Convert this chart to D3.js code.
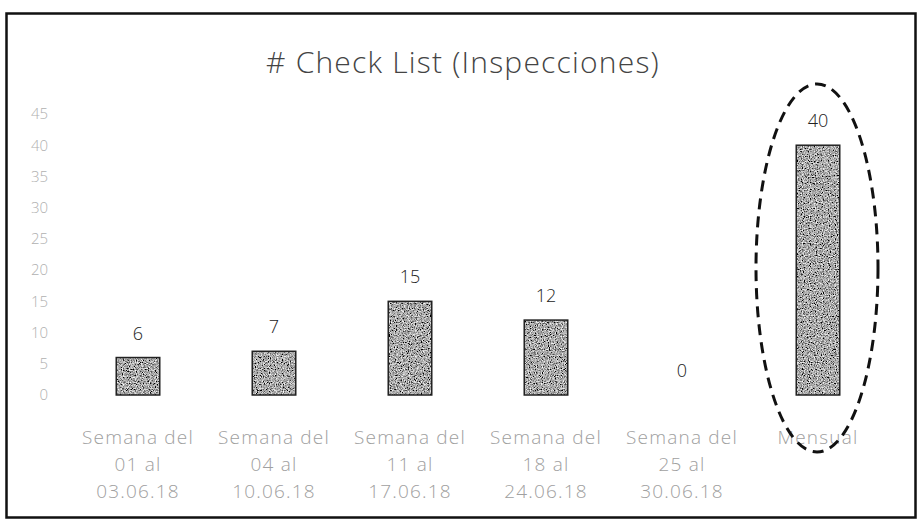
<!DOCTYPE html>
<html>
<head>
<meta charset="utf-8">
<script src="https://cdn.jsdelivr.net/npm/d3@7"></script>
<style>
  html, body { margin: 0; padding: 0; background: #fff; }
  svg { display: block; }
</style>
</head>
<body>
<svg id="chart" width="921" height="528"></svg>
<script>
// Inspections per week plus monthly total
const categories = [
  ["Semana del", "01 al", "03.06.18"],
  ["Semana del", "04 al", "10.06.18"],
  ["Semana del", "11 al", "17.06.18"],
  ["Semana del", "18 al", "24.06.18"],
  ["Semana del", "25 al", "30.06.18"],
  ["Mensual"]
];
const values = [6, 7, 15, 12, 0, 40];
const yTicks = [0, 5, 10, 15, 20, 25, 30, 35, 40, 45];
const title = "# Check List (Inspecciones)";

const svg = d3.select("#chart");
const font = "'Open Sans', Lato, sans-serif";

// speckled grey texture for the bars
const defs = svg.append("defs");
const grain = defs.append("filter").attr("id", "grain")
  .attr("x", 0).attr("y", 0).attr("width", 1).attr("height", 1);
grain.append("feTurbulence")
  .attr("type", "fractalNoise").attr("baseFrequency", 0.85)
  .attr("numOctaves", 2).attr("seed", 3).attr("result", "noise");
grain.append("feColorMatrix")
  .attr("in", "noise").attr("type", "matrix")
  .attr("values", "0 0 0 0 0  0 0 0 0 0  0 0 0 0 0  0 0 0 -1.8 1.5")
  .attr("result", "dots");
grain.append("feComposite")
  .attr("in", "dots").attr("in2", "SourceGraphic").attr("operator", "in")
  .attr("result", "dotsIn");
grain.append("feFlood").attr("flood-color", "#ffffff").attr("result", "white");
grain.append("feComposite")
  .attr("in", "white").attr("in2", "SourceGraphic").attr("operator", "in")
  .attr("result", "base");
grain.append("feMerge").selectAll("feMergeNode")
  .data(["base", "dotsIn"]).join("feMergeNode").attr("in", d => d);

// outer frame
svg.append("rect")
  .attr("x", 6.5).attr("y", 13.5)
  .attr("width", 909).attr("height", 504)
  .attr("fill", "none").attr("stroke", "#111").attr("stroke-width", 2.5);

const x = d3.scaleBand()
  .domain(d3.range(categories.length))
  .range([70, 886])
  .paddingInner(0.68)
  .paddingOuter(0.34);

const y = d3.scaleLinear().domain([0, 45]).range([395, 114]);

// title
svg.append("text")
  .attr("x", 463).attr("y", 73)
  .attr("text-anchor", "middle")
  .attr("font-family", font)
  .attr("font-weight", 300)
  .attr("font-size", 30)
  .attr("letter-spacing", 1.2)
  .attr("fill", "#444")
  .text(title);

// y axis labels only
const yAxis = svg.append("g")
  .attr("transform", "translate(48,0)")
  .call(d3.axisLeft(y).tickValues(yTicks).tickSize(0).tickPadding(0));
yAxis.select(".domain").remove();
yAxis.selectAll("text")
  .attr("font-family", font)
  .attr("font-weight", 300)
  .attr("font-size", 15)
  .attr("fill", "#b0b0b0");

// bars
const barG = svg.append("g");
barG.selectAll("rect.fill")
  .data(values)
  .join("rect")
  .attr("class", "fill")
  .attr("x", (d, i) => x(i))
  .attr("y", d => y(d))
  .attr("width", x.bandwidth())
  .attr("height", d => y(0) - y(d))
  .attr("fill", "#000")
  .attr("filter", "url(#grain)");
barG.selectAll("rect.edge")
  .data(values)
  .join("rect")
  .attr("class", "edge")
  .attr("x", (d, i) => x(i))
  .attr("y", d => y(d))
  .attr("width", x.bandwidth())
  .attr("height", d => y(0) - y(d))
  .attr("fill", "none")
  .attr("stroke", "#222")
  .attr("stroke-width", 1.5);

// value labels
svg.append("g").selectAll("text")
  .data(values)
  .join("text")
  .attr("x", (d, i) => x(i) + x.bandwidth() / 2)
  .attr("y", d => y(d) - 18)
  .attr("text-anchor", "middle")
  .attr("font-family", font)
  .attr("font-weight", 300)
  .attr("font-size", 18)
  .attr("fill", "#222")
  .text(d => d);

// category labels
const cat = svg.append("g").selectAll("text")
  .data(categories)
  .join("text")
  .attr("x", (d, i) => x(i) + x.bandwidth() / 2)
  .attr("y", 444)
  .attr("text-anchor", "middle")
  .attr("font-family", font)
  .attr("font-weight", 300)
  .attr("font-size", 19)
  .attr("letter-spacing", 1.2)
  .attr("fill", "#a0a0a0");
cat.selectAll("tspan")
  .data(d => d)
  .join("tspan")
  .attr("x", function () { return d3.select(this.parentNode).attr("x"); })
  .attr("dy", (d, i) => i === 0 ? 0 : 27)
  .text(d => d);

// dashed ellipse around the monthly bar
const last = values.length - 1;
svg.append("ellipse")
  .attr("cx", x(last) + x.bandwidth() / 2 - 1)
  .attr("cy", 268)
  .attr("rx", 61)
  .attr("ry", 184)
  .attr("fill", "none")
  .attr("stroke", "#111")
  .attr("stroke-width", 3)
  .attr("stroke-dasharray", "11 7");
</script>
</body>
</html>
